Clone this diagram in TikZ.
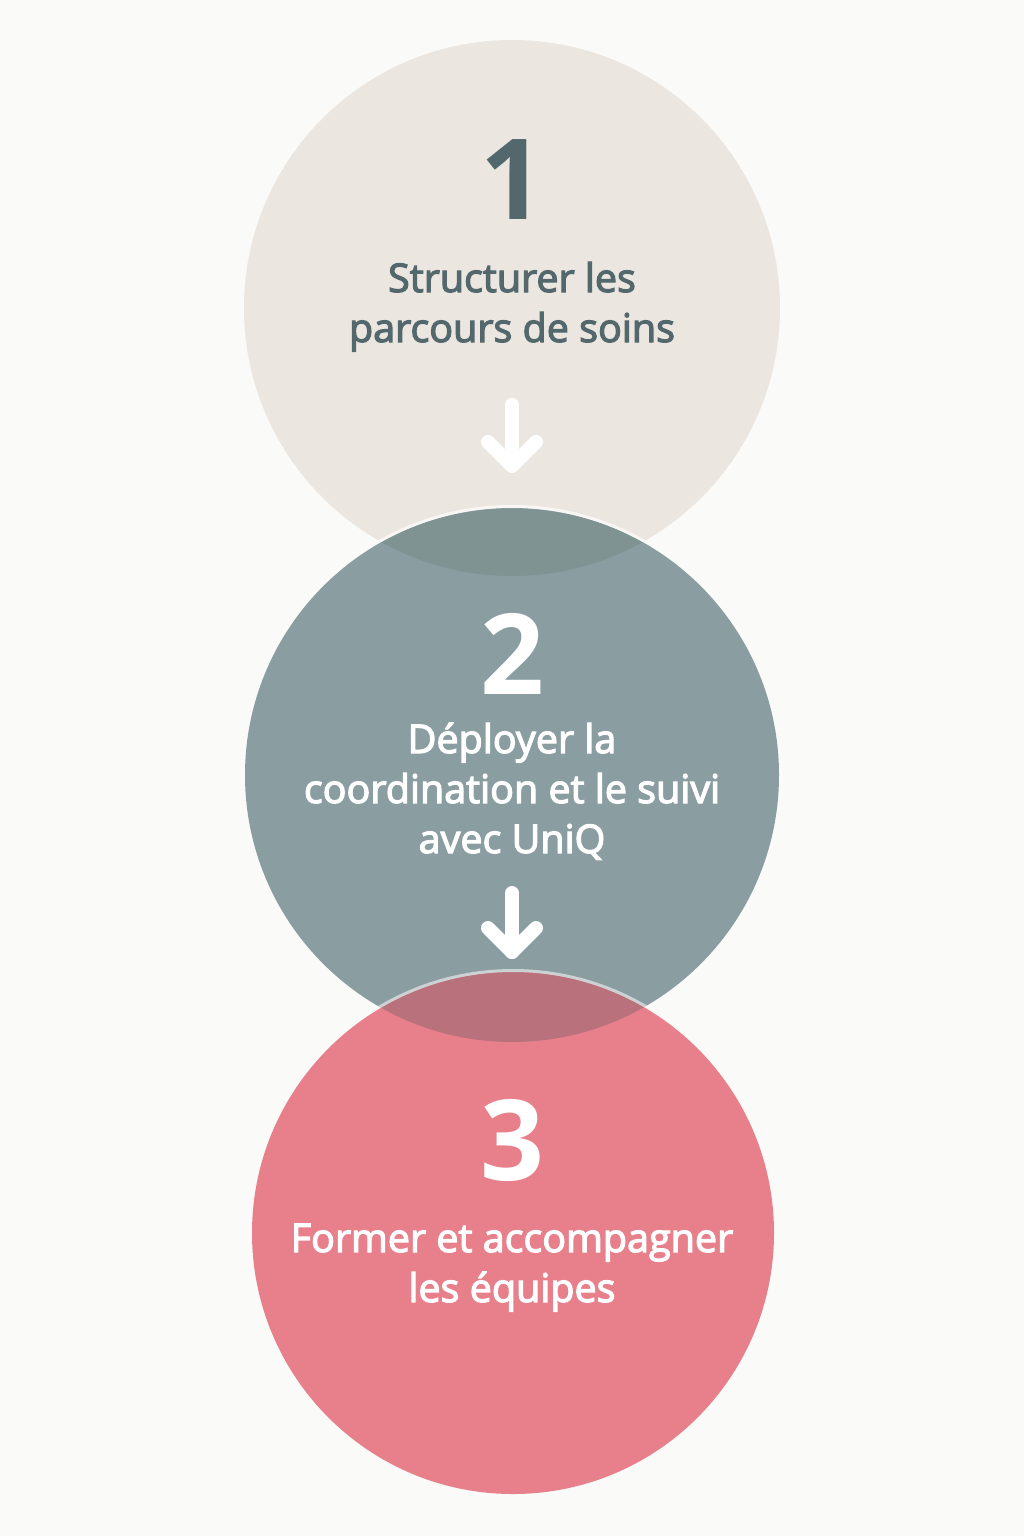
\documentclass[tikz,border=0pt]{standalone}
\usepackage{fontspec}
\setmainfont{Open Sans}
\newfontfamily\stepfont[FakeBold=3]{Open Sans}

\definecolor{paper}{HTML}{FAFAF8}
\definecolor{sand}{HTML}{EBE6DF}
\definecolor{slate}{HTML}{8A9DA1}
\definecolor{rose}{HTML}{E8808C}
\definecolor{slatedeep}{HTML}{7F9393}
\definecolor{rosedeep}{HTML}{B9727C}
\definecolor{ink}{HTML}{52686D}

\begin{document}
\begin{tikzpicture}[x=1pt, y=-1pt,
    disc/.style = {shape=circle, inner sep=0pt, draw=none},
    numeral/.style = {font=\fontsize{112}{112}\selectfont\bfseries},
    caption/.style = {align=center, anchor=base,
      font=\fontsize{39.5}{50}\selectfont\stepfont},
    flow/.style = {draw=white, line width=14pt, line cap=round, line join=round}]
  \fill[paper] (0,0) rectangle (1024,1536);
  \useasboundingbox (0,0) rectangle (1024,1536);

  % the three steps
  \node[disc, fill=sand, minimum size=536pt] (s1) at (512,308) {};
  \node[disc, fill=slate, minimum size=534pt] (s2) at (512,775) {};
  \node[disc, fill=rose, minimum size=522pt] (s3) at (513,1233) {};

  % overlaps
  \begin{scope}
    \clip (512,308) circle (268);
    \fill[slatedeep] (512,775) circle (267);
    \draw[white, opacity=0.7, line width=3pt] (512,775) circle (268.5);
  \end{scope}
  \begin{scope}
    \clip (512,775) circle (267);
    \fill[rosedeep] (513,1233) circle (261);
    \draw[white, opacity=0.55, line width=3pt] (513,1233) circle (262.5);
  \end{scope}

  \node[numeral, text=ink] (n1) at (512,180) {1};
  \node[caption, text=ink] (t1) at (512,342) {Structurer les\\parcours de soins};

  \node[numeral, text=white] (n2) at (512,654) {2};
  \node[caption, text=white] (t2) at (512,853)
    {Déployer la\\coordination et le suivi\\avec UniQ};

  \node[numeral, text=white] (n3) at (512,1140) {3};
  \node[caption, text=white] (t3) at (512,1302)
    {Former et accompagner\\les équipes};

  % arrows
  \coordinate (a1) at (512,405);
  \coordinate (b1) at (512,466);
  \coordinate (a2) at (512,893);
  \coordinate (b2) at (512,952);
  \draw[flow] (a1) -- (b1);
  \draw[flow] ([xshift=-24pt,yshift=24pt]b1) -- (b1) -- ([xshift=24pt,yshift=24pt]b1);
  \draw[flow] (a2) -- (b2);
  \draw[flow] ([xshift=-24pt,yshift=24pt]b2) -- (b2) -- ([xshift=24pt,yshift=24pt]b2);
\end{tikzpicture}
\end{document}
